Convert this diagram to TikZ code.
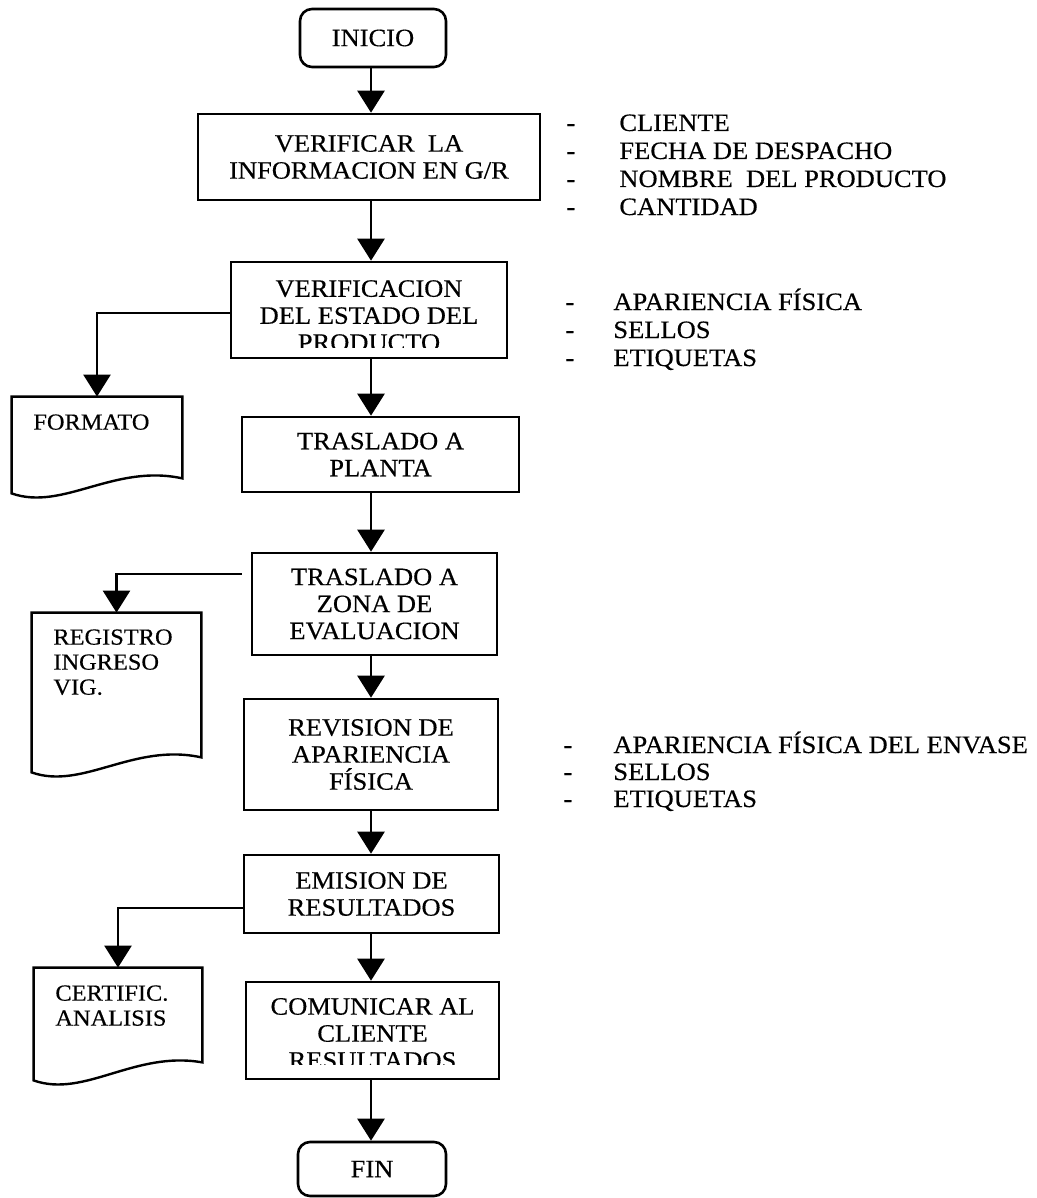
\documentclass[tikz,border=0pt]{standalone}
\usepackage{fontspec}
\setmainfont{Liberation Serif}[FakeStretch=1.06,FakeBold=0.4]
\usetikzlibrary{calc,arrows.meta,positioning}

\begin{document}
\begin{tikzpicture}[x=0.5pt,y=-0.5pt,
	caja/.style={draw,line width=1.3pt,rectangle,inner sep=0pt,align=center,font=\fontsize{12.5}{13.5}\selectfont},
	redondeada/.style={caja,rounded corners=6pt},
	hoja/.style={rectangle,inner sep=0pt},
	doctexto/.style={anchor=north west,inner sep=0pt,align=left,font=\fontsize{11.5}{12.5}\selectfont},
	flecha/.style={line width=1.3pt,-{Triangle[length=11pt,width=13.5pt]}},
	item/.style={anchor=base west,inner sep=0pt,font=\fontsize{12.5}{13.5}\selectfont}]

		\useasboundingbox (0,0) rectangle (1037,1198);
		\coordinate (eje) at (371,0);

		% flujo principal
		\node[redondeada,minimum width=73pt,minimum height=29pt] (inicio) at (373,38) {INICIO};
		\node[caja,minimum width=171pt,minimum height=43pt] (verif) at (369,157) {VERIFICAR\ \ LA\\INFORMACION EN G/R};
		\node[caja,minimum width=138pt,minimum height=48pt,
			path picture={\clip ([yshift=5.5pt]path picture bounding box.south west) rectangle (path picture bounding box.north east);
				\node[inner sep=0pt,align=center,font=\fontsize{12.5}{13.5}\selectfont] (estado-t) at ([yshift=-2.8pt]path picture bounding box.center) {VERIFICACION\\DEL ESTADO DEL\\PRODUCTO};}] (estado) at (369,310) {};
		\node[caja,minimum width=138.5pt,minimum height=37.5pt] (planta) at (380.5,454.5) {TRASLADO A\\PLANTA};
		\node[caja,minimum width=122.5pt,minimum height=51pt] (zona) at (374.5,604) {TRASLADO A\\ZONA DE\\EVALUACION};
		\node[caja,minimum width=127pt,minimum height=55.5pt] (revision) at (371,754.5) {REVISION DE\\APARIENCIA\\FÍSICA};
		\node[caja,minimum width=127.5pt,minimum height=39pt] (emision) at (371.5,894) {EMISION DE\\RESULTADOS};
		\node[caja,minimum width=126.5pt,minimum height=48.5pt,
			path picture={\clip ([yshift=7.5pt]path picture bounding box.south west) rectangle (path picture bounding box.north east);
				\node[inner sep=0pt,align=center,font=\fontsize{12.5}{13.5}\selectfont] (comunicar-t) at ([yshift=-1.5pt]path picture bounding box.center) {COMUNICAR AL\\CLIENTE\\RESULTADOS};}] (comunicar) at (372.5,1030.5) {};
		\node[redondeada,minimum width=74pt,minimum height=27pt] (fin) at (372,1169) {FIN};

		\draw[flecha] (inicio.south -| eje) -- (verif.north -| eje);
		\draw[flecha] (verif.south -| eje) -- (estado.north -| eje);
		\draw[flecha] (estado.south -| eje) -- (planta.north -| eje);
		\draw[flecha] (planta.south -| eje) -- (zona.north -| eje);
		\draw[flecha] (zona.south -| eje) -- (revision.north -| eje);
		\draw[flecha] (revision.south -| eje) -- (emision.north -| eje);
		\draw[flecha] (emision.south -| eje) -- (comunicar.north -| eje);
		\draw[flecha] (comunicar.south -| eje) -- (fin.north -| eje);

		% documentos
		\node[hoja,minimum width=85pt,minimum height=48pt] (formato) at (97,445) {};
		\node[doctexto] (formato-t) at (33,414) {FORMATO};
		\node[hoja,minimum width=84.5pt,minimum height=79.5pt] (registro) at (116.5,692.5) {};
		\node[doctexto] (registro-t) at (53,629) {REGISTRO\\INGRESO\\VIG.};
		\node[hoja,minimum width=84pt,minimum height=56pt] (certif) at (118,1024) {};
		\node[doctexto] (certif-t) at (55,985) {CERTIFIC.\\ANALISIS};
		\foreach \d/\c in {formato/7.5,registro/7.5,certif/9}
		\draw[line width=1.2pt] (\d.south west) -- (\d.north west) -- (\d.north east) -- ([yshift=\c pt]\d.south east)
			.. controls ($(\d.south west)!0.6!(\d.south east)+(0,-30)$) and ($(\d.south west)!0.3!(\d.south east)+(0,18)$) .. cycle;

		\draw[flecha] ([yshift=-1.5pt]estado.west) -| (formato.north);
		\coordinate (z-ini) at ([shift={(-9,-30)}]zona.west);
		\draw[flecha] (z-ini) -| (registro.north);
		\draw[flecha] ([yshift=-7pt]emision.west) -| (certif.north);

		% observaciones
		\foreach \t [count=\i] in {CLIENTE,FECHA DE DESPACHO,NOMBRE\ \ DEL PRODUCTO,CANTIDAD}
		\node[item] (obs-a\i) at (566,{131+28*(\i-1)}) {\makebox[26.5pt][l]{-}\t};
		\foreach \t [count=\i] in {APARIENCIA FÍSICA,SELLOS,ETIQUETAS}
		\node[item] (obs-b\i) at (565,{310+28*(\i-1)}) {\makebox[24pt][l]{-}\t};
		\foreach \t [count=\i] in {APARIENCIA FÍSICA DEL ENVASE,SELLOS,ETIQUETAS}
		\node[item] (obs-c\i) at (563,{753+27*(\i-1)}) {\makebox[25pt][l]{-}\t};
	\end{tikzpicture}
\end{document}
